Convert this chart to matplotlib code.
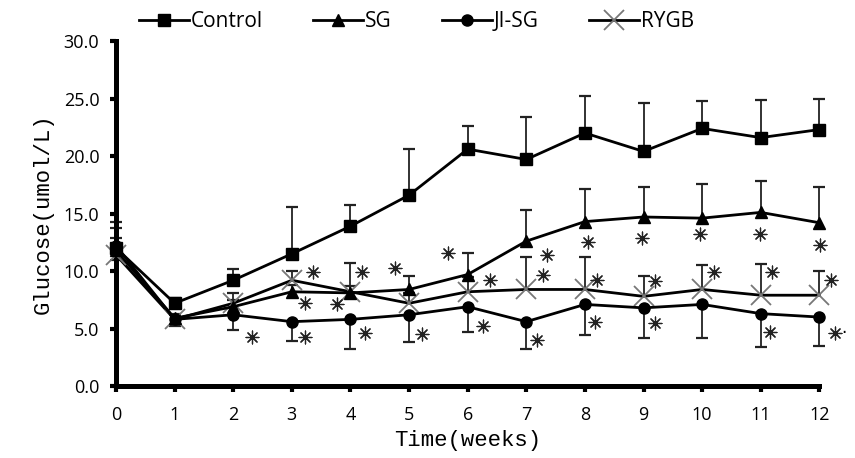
import numpy as np
import matplotlib
matplotlib.use("Agg")
import matplotlib.pyplot as plt

# weeks after surgery
weeks = np.arange(13)

# mean glucose per group
control = [12.0, 7.2, 9.2, 11.5, 13.9, 16.6, 20.6, 19.7, 22.0, 20.4, 22.4, 21.6, 22.3]
sg = [11.8, 5.9, 6.9, 8.2, 8.1, 8.4, 9.7, 12.6, 14.3, 14.7, 14.6, 15.1, 14.2]
jisg = [12.2, 5.8, 6.2, 5.6, 5.8, 6.2, 6.9, 5.6, 7.1, 6.8, 7.1, 6.3, 6.0]
rygb = [11.4, 5.8, 7.2, 9.2, 8.2, 7.2, 8.2, 8.4, 8.4, 7.8, 8.4, 7.9, 7.9]

# one-sided error bars (up for control/SG/RYGB, down for JI-SG)
control_err = [2.3, 0.5, 1.0, 4.1, 1.8, 4.0, 2.0, 3.7, 3.2, 4.2, 2.4, 3.3, 2.7]
sg_err = [1.9, 0.4, 0.6, 0.6, 0.6, 1.2, 1.9, 2.7, 2.8, 2.6, 3.0, 2.7, 3.1]
jisg_err = [1.2, 0.6, 1.3, 1.7, 2.6, 2.4, 2.2, 2.4, 2.7, 2.6, 2.9, 2.9, 2.5]
rygb_err = [1.5, 0.4, 0.9, 0.8, 2.5, 0.9, 1.3, 2.8, 2.8, 1.8, 2.1, 2.7, 2.1]

# significance asterisks (x in weeks, y in umol/L)
ast_x = [2.32, 3.36, 3.23, 3.23, 4.2, 3.77, 4.25, 4.76, 5.22, 5.67, 6.38, 6.26,
         7.35, 7.29, 7.18, 8.05, 8.2, 8.17, 8.97, 9.2, 9.2, 9.97, 10.2, 10.99,
         11.2, 11.16, 12.01, 12.2, 12.27]
ast_y = [4.3, 9.9, 7.2, 4.3, 9.9, 7.1, 4.6, 10.3, 4.5, 11.6, 9.2, 5.2,
         11.4, 9.7, 4.0, 12.5, 9.2, 5.6, 12.9, 9.1, 5.5, 13.2, 9.9, 13.2,
         9.9, 4.7, 12.3, 9.2, 4.6]

fig = plt.figure(figsize=(8.55, 4.58), dpi=100)
ax = fig.add_axes([0.1357, 0.157, 0.8226, 0.7535])

def err_bars(y, e, down=False):
    y = np.array(y)
    e = np.array(e)
    end = y - e if down else y + e
    ax.vlines(weeks, y, end, color='#222222', lw=1.3, zorder=2, clip_on=False)
    ax.plot(weeks, end, ls='none', marker='_', ms=8, mew=1.6, color='#222222',
            zorder=2, clip_on=False)

err_bars(control, control_err)
err_bars(sg, sg_err)
err_bars(rygb, rygb_err)
err_bars(jisg, jisg_err, down=True)

ax.plot(weeks, control, '-s', color='black', lw=2, ms=9, label='Control', zorder=4, clip_on=False)
ax.plot(weeks, sg, '-^', color='black', lw=2, ms=8, label='SG', zorder=4, clip_on=False)
ax.plot(weeks, jisg, '-o', color='black', lw=2, ms=8, label='JI-SG', zorder=4, clip_on=False)
ax.plot(weeks, rygb, '-x', color='black', mec='#777777', lw=2, ms=14, mew=1.3,
        label='RYGB', zorder=3, clip_on=False)

ax.scatter(ast_x, ast_y, marker=(8, 2, 0), s=85, color='#222222', linewidths=0.9,
           zorder=5, clip_on=False)
ax.text(12.42, 4.6, '·', fontsize=12, ha='center', va='center')

ax.set_xlim(0, 12)
ax.set_ylim(0, 30)
ax.set_xticks(weeks)
ax.set_yticks(np.arange(0, 31, 5))
ax.set_yticklabels(['%.1f' % v for v in np.arange(0, 31, 5)])

for s in ['top', 'right']:
    ax.spines[s].set_visible(False)
for s in ['left', 'bottom']:
    ax.spines[s].set_linewidth(3.6)
ax.tick_params(axis='both', direction='out', length=4, width=3, labelsize=13)
ax.tick_params(axis='x', pad=10)
ax.tick_params(axis='y', pad=8)
for lab in ax.get_xticklabels() + ax.get_yticklabels():
    lab.set_fontfamily('Open Sans')

ax.set_xlabel('Time(weeks)', fontfamily='Liberation Mono', fontsize=16, labelpad=5)
ax.set_ylabel('Glucose(umol/L)', fontfamily='Liberation Mono', fontsize=16, labelpad=7)

leg = fig.legend(loc='center', bbox_to_anchor=(0.487, 0.952), ncol=4, frameon=False,
                 handlelength=2.4, handletextpad=0.1, columnspacing=2.4,
                 prop={'family': 'Open Sans', 'size': 15})

fig.savefig('out.png', dpi=100)
